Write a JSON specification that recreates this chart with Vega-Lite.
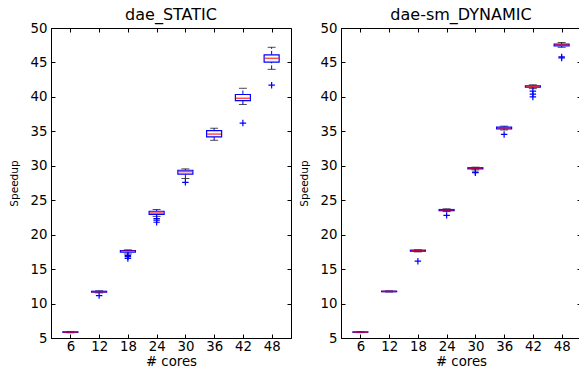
{
  "$schema": "https://vega.github.io/schema/vega-lite/v6.json",
  "padding": {"left": 8, "top": 6, "right": 0, "bottom": 0},
  "spacing": 50,
  "bounds": "flush",
  "config": {
    "font": "DejaVu Sans",
    "view": {"stroke": "black", "strokeWidth": 1},
    "axis": {"grid": false, "domainColor": "black", "tickColor": "black", "labelColor": "black", "titleColor": "black", "labelFont": "DejaVu Sans", "titleFont": "DejaVu Sans", "labelFontSize": 13.3, "titleFontWeight": "normal", "tickSize": -4, "labelPadding": 8},
    "axisBottom": {"labelPadding": 5},
    "title": {"font": "DejaVu Sans", "fontSize": 16, "fontWeight": "normal", "color": "black", "offset": -2}
  },
  "datasets": {
    "static": [
      {"cores": 6, "lo": 5.75, "q1": 5.82, "med": 5.86, "q3": 5.9, "hi": 5.95},
      {"cores": 12, "lo": 11.55, "q1": 11.66, "med": 11.72, "q3": 11.78, "hi": 11.85},
      {"cores": 18, "lo": 17.2, "q1": 17.45, "med": 17.6, "q3": 17.7, "hi": 17.8},
      {"cores": 24, "lo": 22.65, "q1": 22.95, "med": 23.15, "q3": 23.4, "hi": 23.65},
      {"cores": 30, "lo": 28.15, "q1": 28.8, "med": 29.15, "q3": 29.35, "hi": 29.55},
      {"cores": 36, "lo": 33.7, "q1": 34.2, "med": 34.6, "q3": 35.1, "hi": 35.45},
      {"cores": 42, "lo": 38.9, "q1": 39.45, "med": 39.8, "q3": 40.35, "hi": 41.25},
      {"cores": 48, "lo": 44.0, "q1": 45.05, "med": 45.6, "q3": 46.1, "hi": 47.2}
    ],
    "staticFliers": [
      {"cores": 12, "v": 11.15},
      {"cores": 18, "v": 17.0},
      {"cores": 18, "v": 16.8},
      {"cores": 18, "v": 16.55},
      {"cores": 24, "v": 22.35},
      {"cores": 24, "v": 22.1},
      {"cores": 24, "v": 21.8},
      {"cores": 30, "v": 27.6},
      {"cores": 42, "v": 36.2},
      {"cores": 48, "v": 41.7}
    ],
    "dynamic": [
      {"cores": 6, "lo": 5.78, "q1": 5.83, "med": 5.86, "q3": 5.89, "hi": 5.93},
      {"cores": 12, "lo": 11.68, "q1": 11.72, "med": 11.76, "q3": 11.8, "hi": 11.84},
      {"cores": 18, "lo": 17.5, "q1": 17.6, "med": 17.68, "q3": 17.75, "hi": 17.8},
      {"cores": 24, "lo": 23.35, "q1": 23.48, "med": 23.57, "q3": 23.65, "hi": 23.75},
      {"cores": 30, "lo": 29.4, "q1": 29.55, "med": 29.65, "q3": 29.72, "hi": 29.8},
      {"cores": 36, "lo": 35.2, "q1": 35.35, "med": 35.5, "q3": 35.62, "hi": 35.75},
      {"cores": 42, "lo": 41.2, "q1": 41.4, "med": 41.52, "q3": 41.62, "hi": 41.75},
      {"cores": 48, "lo": 47.2, "q1": 47.4, "med": 47.55, "q3": 47.65, "hi": 47.9}
    ],
    "dynamicFliers": [
      {"cores": 18, "v": 16.15},
      {"cores": 24, "v": 22.8},
      {"cores": 30, "v": 29.1},
      {"cores": 30, "v": 29.0},
      {"cores": 36, "v": 34.55},
      {"cores": 42, "v": 40.85},
      {"cores": 42, "v": 40.4},
      {"cores": 42, "v": 40.0},
      {"cores": 48, "v": 45.8},
      {"cores": 48, "v": 45.65}
    ]
  },
  "hconcat": [
    {
      "title": "dae_STATIC",
      "width": 240,
      "height": 310,
      "resolve": {"axis": {"x": "independent", "y": "independent"}},
      "layer": [
        {
          "data": {"name": "static"},
          "mark": {"type": "rule", "color": "#0000ff", "strokeDash": [4, 2], "strokeWidth": 1},
          "encoding": {
            "x": {"field": "cores", "type": "quantitative", "scale": {"domain": [3, 51], "nice": false, "zero": false}, "axis": {"values": [6, 12, 18, 24, 30, 36, 42, 48], "title": "# cores", "titleFontSize": 13.3, "titlePadding": 2}},
            "y": {"field": "lo", "type": "quantitative", "scale": {"domain": [5, 50], "nice": false, "zero": false}, "axis": {"values": [5, 10, 15, 20, 25, 30, 35, 40, 45, 50], "title": "Speedup", "titleFontSize": 10.5, "titlePadding": 11}},
            "y2": {"field": "q1"}
          }
        },
        {
          "data": {"name": "static"},
          "mark": {"type": "rule", "color": "#0000ff", "strokeDash": [4, 2], "strokeWidth": 1},
          "encoding": {
            "x": {"field": "cores", "type": "quantitative", "axis": {"orient": "top", "values": [6, 12, 18, 24, 30, 36, 42, 48], "labels": false, "title": null, "domain": false}},
            "y": {"field": "q3", "type": "quantitative", "axis": {"orient": "right", "values": [5, 10, 15, 20, 25, 30, 35, 40, 45, 50], "labels": false, "title": null, "domain": false}},
            "y2": {"field": "hi"}
          }
        },
        {
          "data": {"name": "static"},
          "mark": {"type": "tick", "orient": "horizontal", "color": "black", "size": 8, "thickness": 1},
          "encoding": {
            "x": {"field": "cores", "type": "quantitative", "axis": null},
            "y": {"field": "lo", "type": "quantitative", "axis": null}
          }
        },
        {
          "data": {"name": "static"},
          "mark": {"type": "tick", "orient": "horizontal", "color": "black", "size": 8, "thickness": 1},
          "encoding": {
            "x": {"field": "cores", "type": "quantitative", "axis": null},
            "y": {"field": "hi", "type": "quantitative", "axis": null}
          }
        },
        {
          "data": {"name": "static"},
          "mark": {"type": "bar", "size": 15, "fill": "white", "stroke": "#0000ff", "strokeWidth": 1.2},
          "encoding": {
            "x": {"field": "cores", "type": "quantitative", "axis": null},
            "y": {"field": "q1", "type": "quantitative", "axis": null},
            "y2": {"field": "q3"}
          }
        },
        {
          "data": {"name": "static"},
          "mark": {"type": "tick", "orient": "horizontal", "color": "#ff0000", "size": 14, "thickness": 1.5},
          "encoding": {
            "x": {"field": "cores", "type": "quantitative", "axis": null},
            "y": {"field": "med", "type": "quantitative", "axis": null}
          }
        },
        {
          "data": {"name": "staticFliers"},
          "mark": {"type": "point", "shape": "M-1,0L1,0M0,-1L0,1", "size": 42, "filled": false, "stroke": "#0000ff", "strokeWidth": 1.2, "opacity": 1},
          "encoding": {
            "x": {"field": "cores", "type": "quantitative", "axis": null},
            "y": {"field": "v", "type": "quantitative", "axis": null}
          }
        }
      ]
    },
    {
      "title": "dae-sm_DYNAMIC",
      "width": 240,
      "height": 310,
      "resolve": {"axis": {"x": "independent", "y": "independent"}},
      "layer": [
        {
          "data": {"name": "dynamic"},
          "mark": {"type": "rule", "color": "#0000ff", "strokeDash": [4, 2], "strokeWidth": 1},
          "encoding": {
            "x": {"field": "cores", "type": "quantitative", "scale": {"domain": [3, 51], "nice": false, "zero": false}, "axis": {"values": [6, 12, 18, 24, 30, 36, 42, 48], "title": "# cores", "titleFontSize": 13.3, "titlePadding": 2}},
            "y": {"field": "lo", "type": "quantitative", "scale": {"domain": [5, 50], "nice": false, "zero": false}, "axis": {"values": [5, 10, 15, 20, 25, 30, 35, 40, 45, 50], "title": "Speedup", "titleFontSize": 10.5, "titlePadding": 11}},
            "y2": {"field": "q1"}
          }
        },
        {
          "data": {"name": "dynamic"},
          "mark": {"type": "rule", "color": "#0000ff", "strokeDash": [4, 2], "strokeWidth": 1},
          "encoding": {
            "x": {"field": "cores", "type": "quantitative", "axis": {"orient": "top", "values": [6, 12, 18, 24, 30, 36, 42, 48], "labels": false, "title": null, "domain": false}},
            "y": {"field": "q3", "type": "quantitative", "axis": {"orient": "right", "values": [5, 10, 15, 20, 25, 30, 35, 40, 45, 50], "labels": false, "title": null, "domain": false}},
            "y2": {"field": "hi"}
          }
        },
        {
          "data": {"name": "dynamic"},
          "mark": {"type": "tick", "orient": "horizontal", "color": "black", "size": 8, "thickness": 1},
          "encoding": {
            "x": {"field": "cores", "type": "quantitative", "axis": null},
            "y": {"field": "lo", "type": "quantitative", "axis": null}
          }
        },
        {
          "data": {"name": "dynamic"},
          "mark": {"type": "tick", "orient": "horizontal", "color": "black", "size": 8, "thickness": 1},
          "encoding": {
            "x": {"field": "cores", "type": "quantitative", "axis": null},
            "y": {"field": "hi", "type": "quantitative", "axis": null}
          }
        },
        {
          "data": {"name": "dynamic"},
          "mark": {"type": "bar", "size": 15, "fill": "white", "stroke": "#0000ff", "strokeWidth": 1.2},
          "encoding": {
            "x": {"field": "cores", "type": "quantitative", "axis": null},
            "y": {"field": "q1", "type": "quantitative", "axis": null},
            "y2": {"field": "q3"}
          }
        },
        {
          "data": {"name": "dynamic"},
          "mark": {"type": "tick", "orient": "horizontal", "color": "#ff0000", "size": 14, "thickness": 1.5},
          "encoding": {
            "x": {"field": "cores", "type": "quantitative", "axis": null},
            "y": {"field": "med", "type": "quantitative", "axis": null}
          }
        },
        {
          "data": {"name": "dynamicFliers"},
          "mark": {"type": "point", "shape": "M-1,0L1,0M0,-1L0,1", "size": 42, "filled": false, "stroke": "#0000ff", "strokeWidth": 1.2, "opacity": 1},
          "encoding": {
            "x": {"field": "cores", "type": "quantitative", "axis": null},
            "y": {"field": "v", "type": "quantitative", "axis": null}
          }
        }
      ]
    }
  ]
}
